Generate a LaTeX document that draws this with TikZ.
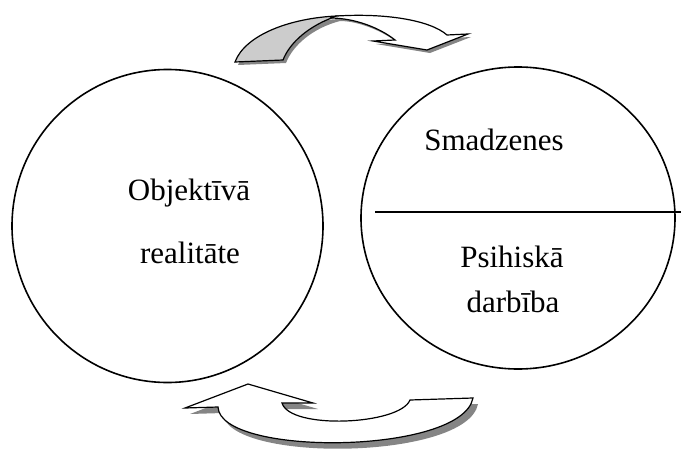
\documentclass[tikz,border=0pt]{standalone}
\usepackage{fontspec}
\setmainfont{Liberation Serif}
\usetikzlibrary{shapes.geometric}
\begin{document}
\begin{tikzpicture}[x=1pt,y=-1pt,
  outline/.style={draw=black, line width=1.6pt},
  ribbon/.style={draw=black, line width=1.2pt, line join=miter},
  shade/.style={fill=black!48, draw=none},
  label/.style={font=\fontsize{31}{36}\selectfont, inner sep=0pt, anchor=center}]
\useasboundingbox (0,0) rectangle (681,450);

% the two circles
\node[outline, ellipse, minimum width=311pt, minimum height=313pt] (left) at (167.5,226) {};
\node[outline, ellipse, minimum width=314pt, minimum height=302pt] (right) at (518,218) {};

% dividing line across the right circle
\coordinate (divA) at (375,212);
\coordinate (divB) at (681,212);
\draw[line width=1.6pt] (divA) -- (divB);

% texts
\node[label] (obj) at (189,193) {Objektīvā};
\node[label] (real) at (190,253) {realitāte};
\node[label] (smad) at (494,140) {Smadzenes};
\node[label] (psih) at (512,257) {Psihiskā};
\node[label] (darb) at (513,302) {darbība};

% upper curved arrow: shadow
\begin{scope}[shift={(3,3)}]
  \fill[shade] (235,62) .. controls (245,35) and (290,18) .. (337,16)
       .. controls (385,13) and (430,20) .. (447,35)
       -- (468,34) -- (427,50) -- (373,41) -- (395,40)
       .. controls (380,28) and (355,18) .. (337,18)
       .. controls (310,25) and (290,42) .. (283,60) -- cycle;
\end{scope}
% upper arrow: grey underside of the ribbon
\filldraw[ribbon, fill=black!20] (235,62) .. controls (245,35) and (290,18) .. (337,16)
     .. controls (310,25) and (290,42) .. (283,60) -- cycle;
% upper arrow: white front band with the head
\filldraw[ribbon, fill=white] (330,18) .. controls (333,17) and (335,16) .. (337,16)
     .. controls (385,13) and (430,20) .. (447,35)
     -- (468,34) -- (427,50) -- (373,41) -- (395,40)
     .. controls (380,28) and (355,18) .. (330,18);

% lower curved arrow
\begin{scope}[shift={(5,6)}]
  \fill[shade] (248,384) -- (313,403) -- (282,403)
     .. controls (290,430) and (400,425) .. (410,400)
     -- (473,398) .. controls (462,455) and (220,457) .. (218,407)
     -- (185,408) -- cycle;
\end{scope}
\filldraw[ribbon, fill=white] (248,384) -- (313,403) -- (282,403)
     .. controls (290,430) and (400,425) .. (410,400)
     -- (473,398) .. controls (462,455) and (220,457) .. (218,407)
     -- (185,408) -- cycle;
\end{tikzpicture}
\end{document}
